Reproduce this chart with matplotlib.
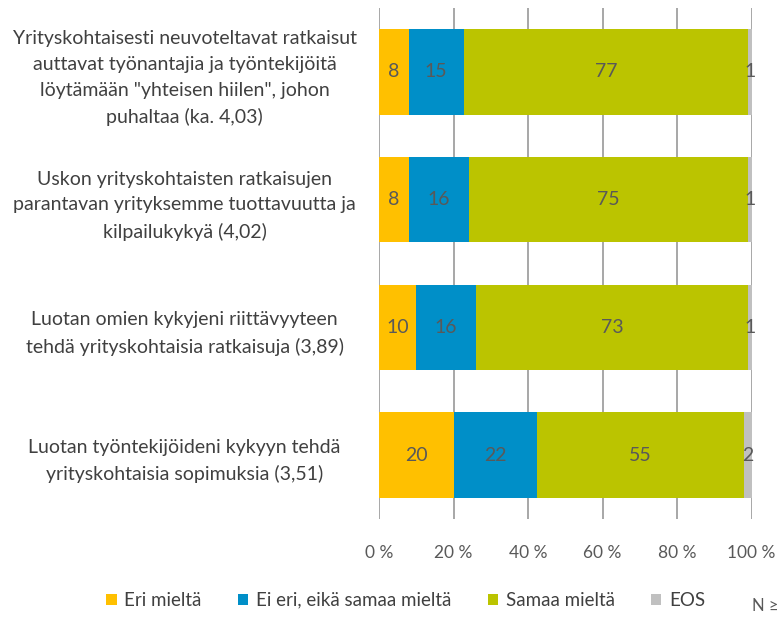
import numpy as np
import matplotlib.pyplot as plt
from matplotlib.patches import Patch

plt.rcParams['font.family'] = ['Lato', 'DejaVu Sans']

# --- data ---
questions = [
    'Yrityskohtaisesti neuvoteltavat ratkaisut\nauttavat työnantajia ja työntekijöitä\nlöytämään "yhteisen hiilen", johon\npuhaltaa (ka. 4,03)',
    'Uskon yrityskohtaisten ratkaisujen\nparantavan yrityksemme tuottavuutta ja\nkilpailukykyä (4,02)',
    'Luotan omien kykyjeni riittävyyteen\ntehdä yrityskohtaisia ratkaisuja (3,89)',
    'Luotan työntekijöideni kykyyn tehdä\nyrityskohtaisia sopimuksia (3,51)',
]
series_names = ['Eri mieltä', 'Ei eri, eikä samaa mieltä', 'Samaa mieltä', 'EOS']
eri = [8, 8, 10, 20]
ei_eri = [15, 16, 16, 22]
samaa = [77, 75, 73, 55]
eos = [1, 1, 1, 2]
colors = ['#FFC000', '#008FC8', '#BBC400', '#C0C0C0']

values = np.array([eri, ei_eri, samaa, eos], dtype=float)
shares = values / values.sum(axis=0) * 100  # bars stacked to 100 %

fig = plt.figure(figsize=(7.8, 6.17), dpi=100)
ax = fig.add_axes([0.486, 0.159, 0.4777, 0.828])

y = np.arange(len(questions))
left = np.zeros(len(questions))
txt_col = '#595959'
for i in range(4):
    ax.barh(y, shares[i], left=left, height=0.67, color=colors[i], zorder=2)
    for j in range(len(questions)):
        ax.text(left[j] + shares[i][j] / 2, y[j], f'{int(values[i][j])}',
                ha='center', va='center', fontsize=14, color=txt_col, zorder=3)
    left += shares[i]

ax.set_xlim(0, 100)
ax.set_ylim(3.5, -0.5)
ax.set_xticks(np.arange(0, 101, 20))
ax.set_xticklabels([f'{v} %' for v in range(0, 101, 20)], fontsize=12.5, color=txt_col)
ax.xaxis.grid(True, color='#A0A0A0', linewidth=1.3, zorder=0)
ax.tick_params(axis='x', length=0, pad=19)
ax.set_yticks(y)
ax.set_yticklabels(questions, fontsize=14, color='#404040', ha='center',
                   multialignment='center', linespacing=1.62)
ax.tick_params(axis='y', length=0, pad=140)
for s in ax.spines.values():
    s.set_visible(False)

handles = [Patch(facecolor=c, edgecolor='none') for c in colors]
fig.legend(handles, series_names, loc='center', bbox_to_anchor=(0.52, 0.027),
           ncol=4, frameon=False, fontsize=13.5, handlelength=0.55, handleheight=0.55,
           handletextpad=0.4, columnspacing=1.95, labelcolor='#404040')
fig.text(0.964, 0.018, 'N ≥', fontsize=12, color=txt_col, ha='left', va='center')

fig.savefig('out.png', dpi=100)
